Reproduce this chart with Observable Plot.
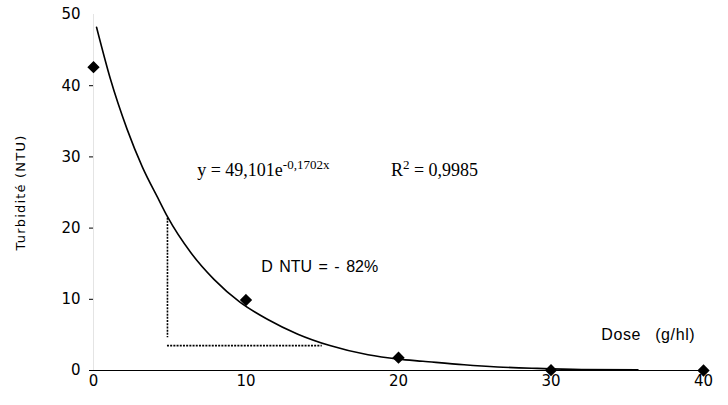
<!DOCTYPE html>
<html><head><meta charset="utf-8">
<script src="https://cdn.jsdelivr.net/npm/d3@7"></script>
<script src="https://cdn.jsdelivr.net/npm/@observablehq/plot@0.6"></script>
<style>body{margin:0;background:#fff}</style>
</head><body><div id="chart"></div>
<script>
// Measured points
const dose = [0, 10, 20, 30, 40];
const turbidity = [42.6, 9.9, 1.8, 0.05, 0.0];
// Trend curve
const curveX = [0.2, 1.1, 2.2, 3.2, 4.3, 4.85, 6.4, 7.9, 9.6, 11.4, 13.4, 15.5, 18, 20, 21.6, 24.3, 26.5, 29.1, 32, 35.7];
const curveY = [48.2, 41.0, 33.9, 28.6, 23.9, 21.6, 16.5, 12.8, 9.6, 7.2, 5.1, 3.5, 2.2, 1.6, 1.3, 0.8, 0.5, 0.3, 0.15, 0.1];
// Dotted guide lines
const guideX = [4.85], guideY1 = [21.4], guideY2 = [4.6];
const guideHY = [3.5], guideHX1 = [4.85], guideHX2 = [15];
// Ticks
const xTicks = [0, 10, 20, 30, 40];
const yTicks = [0, 10, 20, 30, 40, 50];
// Annotations
const eqText = ["y = 49,101e"], eqX = [6.8], eqY = [28.1];
const r2Text = ["R"], r2X = [19.5], r2Y = [28.1];
const dText = ["D NTU = - 82%"], dX = [11.0], dY = [14.5];
const doseLabel = ["Dose  (g/hl)"], doseLX = [33.3], doseLY = [5.05];
const yLabel = "Turbidité (NTU)";

const pts = dose.map((d, i) => ({x: d, y: turbidity[i]}));
const curve = curveX.map((d, i) => ({x: d, y: curveY[i]}));

const svg = Plot.plot({
  width: 728, height: 405,
  marginLeft: 93, marginRight: 25, marginTop: 14, marginBottom: 35,
  style: {fontFamily: "DejaVu Sans", fontSize: "15px", color: "#000", background: "#fff"},
  x: {domain: [0, 40]},
  y: {domain: [0, 50]},
  marks: [
    Plot.ruleX([0], {stroke: "#e4e4e4", strokeWidth: 1}),
    Plot.axisX({ticks: xTicks, tickSize: 0, tickPadding: 5, label: null, fontSize: 15}),
    Plot.axisY({ticks: yTicks.filter(t => t < 50), tickSize: 4, tickPadding: 9, label: yLabel, labelAnchor: "center", labelOffset: 78, fontSize: 15}),
    Plot.axisY({ticks: [50], tickSize: 0, tickPadding: 13, label: null, fontSize: 15}),
    Plot.ruleY([0], {stroke: "#000", strokeWidth: 1.2}),
    Plot.ruleX(guideX, {x: d => d, y1: guideY1[0], y2: guideY2[0], stroke: "#000", strokeWidth: 1.6, strokeDasharray: "2,1.2"}),
    Plot.ruleY(guideHY, {y: d => d, x1: guideHX1[0], x2: guideHX2[0], stroke: "#000", strokeWidth: 1.6, strokeDasharray: "2,1.2"}),
    Plot.line(curve, {x: "x", y: "y", stroke: "#000", strokeWidth: 1.6, curve: "monotone-x"}),
    Plot.dot(pts, {x: "x", y: "y", symbol: "diamond2", r: 4.6, fill: "#000", stroke: "#000"}),
    Plot.text(eqText, {x: eqX, y: eqY, text: d => d, textAnchor: "start", fontFamily: "Liberation Serif", fontSize: 18}),
    Plot.text(r2Text, {x: r2X, y: r2Y, text: d => d, textAnchor: "start", fontFamily: "Liberation Serif", fontSize: 18}),
    Plot.text(dText, {x: dX, y: dY, text: d => d, textAnchor: "start", fontFamily: "Liberation Sans", fontSize: 16}),
    Plot.text(doseLabel, {x: doseLX, y: doseLY, text: d => d, textAnchor: "start", fontFamily: "Liberation Sans", fontSize: 16})
  ]
});

const ns = "http://www.w3.org/2000/svg";
svg.querySelectorAll("text").forEach(t => {
  const c = t.textContent;
  if (c === "y = 49,101e") {
    const s = document.createElementNS(ns, "tspan");
    s.setAttribute("dy", "-7"); s.setAttribute("font-size", "13");
    s.textContent = "-0,1702x";
    t.appendChild(s);
  } else if (c === "R") {
    const s = document.createElementNS(ns, "tspan");
    s.setAttribute("dy", "-7"); s.setAttribute("font-size", "13");
    s.textContent = "2";
    const s2 = document.createElementNS(ns, "tspan");
    s2.setAttribute("dy", "7");
    s2.textContent = " = 0,9985";
    t.appendChild(s); t.appendChild(s2);
  } else if (c.includes("Turbidit")) {
    t.textContent = yLabel;
    t.setAttribute("letter-spacing", "1.2");
    t.setAttribute("font-size", "13");
  } else if (c.startsWith("D NTU")) {
    t.setAttribute("word-spacing", "2");
  } else if (c.startsWith("Dose")) {
    t.setAttribute("letter-spacing", "0.6");
    t.setAttribute("word-spacing", "2");
  }
});
document.getElementById("chart").appendChild(svg);
</script>
</body></html>
